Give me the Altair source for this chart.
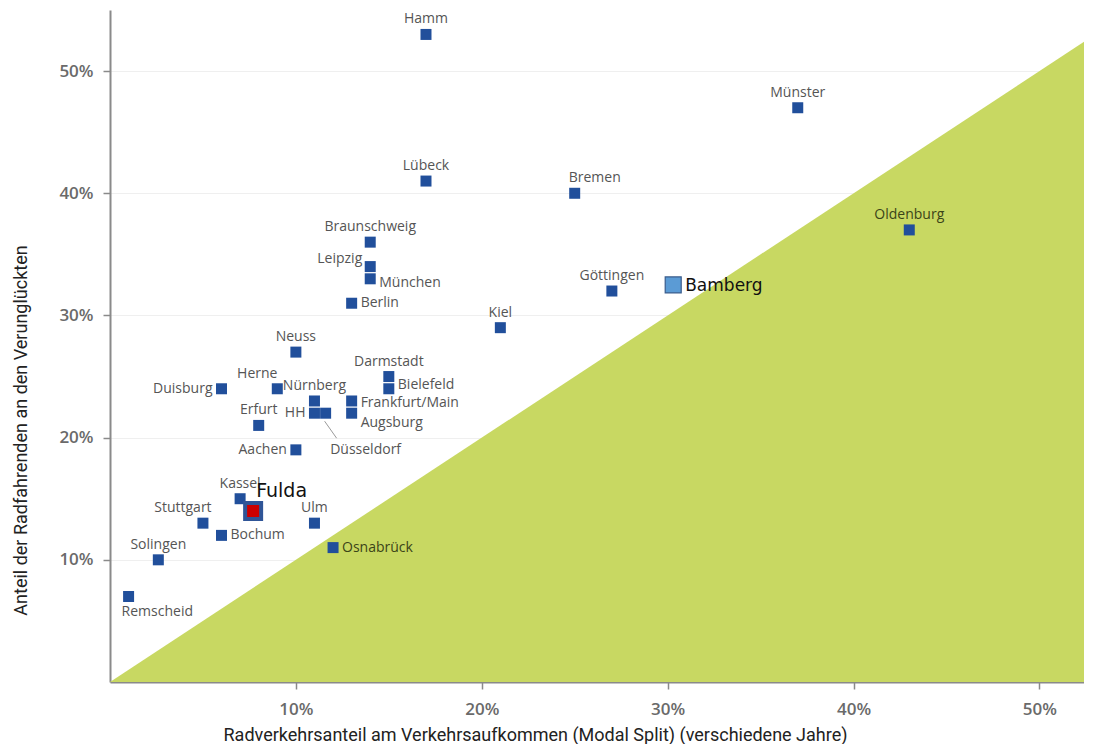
import altair as alt
import pandas as pd

# ---------------- data ----------------
cities = ["Hamm", "Münster", "Lübeck", "Bremen", "Oldenburg", "Braunschweig",
          "Leipzig", "München", "Berlin", "Göttingen", "Kiel", "Neuss",
          "Darmstadt", "Bielefeld", "Duisburg", "Herne", "Nürnberg", "HH",
          "Düsseldorf", "Frankfurt/Main", "Augsburg", "Erfurt", "Aachen",
          "Kassel", "Stuttgart", "Ulm", "Bochum", "Osnabrück", "Solingen",
          "Remscheid"]
modal_split = [17, 37, 17, 25, 43, 14, 14, 14, 13, 27, 21, 10, 15, 15, 6, 9,
               11, 11, 11.6, 13, 13, 8, 10, 7, 5, 11, 6, 12, 2.6, 1]
cyclist_share = [53, 47, 41, 40, 37, 36, 34, 33, 31, 32, 29, 27, 25, 24, 24,
                 24, 23, 22, 22, 23, 22, 21, 19, 15, 13, 13, 12, 11, 10, 7]
label_place = ["top", "top", "top", "topright", "top", "top", "upleft",
               "right_low", "right", "top", "top", "top", "top", "right_high",
               "left", "topleft", "top", "left", "leader", "right_down",
               "right_lower", "top", "left", "top", "topleft", "top", "right",
               "right", "top", "bottom"]

highlight_cities = ["Bamberg", "Fulda"]
highlight_x = [30.3, 7.7]
highlight_y = [32.5, 14.0]

x_ticks = [10, 20, 30, 40, 50]
y_ticks = [10, 20, 30, 40, 50]
X_MAX = 52.4
Y_MAX = 55

x_title = "Radverkehrsanteil am Verkehrsaufkommen (Modal Split) (verschiedene Jahre)"
y_title = "Anteil der Radfahrenden an den Verunglückten"

df = pd.DataFrame({"city": cities, "x": modal_split, "y": cyclist_share,
                   "place": label_place})
hl = pd.DataFrame({"city": highlight_cities, "x": highlight_x, "y": highlight_y})
diag = pd.DataFrame({"x": [0, X_MAX]})

# ---------------- scales ----------------
xs = alt.Scale(domain=[0, X_MAX], nice=False, zero=False)
ys = alt.Scale(domain=[0, Y_MAX], nice=False, zero=False)

x_axis = alt.Axis(values=x_ticks, labelExpr="datum.value + '%'", grid=False,
                  title=x_title, titleX=425, titlePadding=9)
y_axis = alt.Axis(values=y_ticks, labelExpr="datum.value + '%'", grid=True,
                  title=y_title, titleX=-80, titleY=420)

X = alt.X("x:Q", scale=xs, axis=x_axis)
Y = alt.Y("y:Q", scale=ys, axis=y_axis)
Xn = alt.X("x:Q", scale=xs)
Yn = alt.Y("y:Q", scale=ys)

# green area below the diagonal (y = x)
area = alt.Chart(diag).transform_calculate(yy="datum.x").mark_area(
    color="#c8d862", opacity=1
).encode(x=X, y=alt.Y("yy:Q", scale=ys, axis=y_axis), y2=alt.datum(0))

points = alt.Chart(df).mark_square(size=121, color="#214f9b", opacity=1).encode(
    x=Xn, y=Yn)

text_color = alt.condition("datum.y < datum.x", alt.value("#3b4418"),
                           alt.value("#555555"))

place_styles = {
    "top": dict(align="center", baseline="bottom", dx=0, dy=-8),
    "right": dict(align="left", baseline="middle", dx=9, dy=0),
    "right_high": dict(align="left", baseline="middle", dx=9, dy=-4),
    "right_down": dict(align="left", baseline="middle", dx=9, dy=2),
    "right_low": dict(align="left", baseline="middle", dx=9, dy=4),
    "right_lower": dict(align="left", baseline="middle", dx=9, dy=10),
    "left": dict(align="right", baseline="middle", dx=-9, dy=0),
    "topleft": dict(align="center", baseline="bottom", dx=-20, dy=-8),
    "topright": dict(align="left", baseline="bottom", dx=-6, dy=-8),
    "upleft": dict(align="right", baseline="middle", dx=-8, dy=-8),
    "bottom": dict(align="left", baseline="top", dx=-7, dy=9),
    "leader": dict(align="center", baseline="middle", dx=40, dy=37),
}

text_layers = []
for place, st in place_styles.items():
    text_layers.append(
        alt.Chart(df).transform_filter(
            alt.FieldEqualPredicate(field="place", equal=place)
        ).mark_text(font="Open Sans", fontSize=14, **st).encode(
            x=Xn, y=Yn, text="city:N", color=text_color)
    )

leader = alt.Chart(df).transform_filter(
    alt.FieldEqualPredicate(field="place", equal="leader")
).mark_rule(color="#9a9a9a", strokeWidth=1, yOffset=8, xOffset=-1,
            y2Offset=25, x2Offset=11).encode(
    x=Xn, y=Yn, x2="x:Q", y2="y:Q")

bamberg = alt.Chart(hl).transform_filter(
    alt.FieldEqualPredicate(field="city", equal="Bamberg"))
fulda = alt.Chart(hl).transform_filter(
    alt.FieldEqualPredicate(field="city", equal="Fulda"))

bamberg_pt = bamberg.mark_square(size=256, fill="#5b9bd5", stroke="#3a5c8c",
                                 strokeWidth=1.2, opacity=1).encode(x=Xn, y=Yn)
bamberg_tx = bamberg.mark_text(font="DejaVu Sans", fontSize=17, align="left",
                               baseline="middle", dx=12, dy=1,
                               color="#111111").encode(x=Xn, y=Yn, text="city:N")
fulda_pt = fulda.mark_square(size=256, fill="#cc0000", stroke="#2f5597",
                             strokeWidth=4, opacity=1).encode(x=Xn, y=Yn)
fulda_tx = fulda.mark_text(font="DejaVu Sans", fontSize=19, align="left",
                           baseline="middle", dx=3, dy=-20,
                           color="#111111").encode(x=Xn, y=Yn, text="city:N")

chart = alt.layer(
    area, leader, points, *text_layers, bamberg_pt, bamberg_tx, fulda_pt, fulda_tx
).properties(
    width=974, height=672,
    autosize=alt.AutoSizeParams(type="none"),
    padding={"left": 102, "top": 2, "right": 0, "bottom": 62},
).configure_view(stroke=None).configure_axis(
    domainColor="#8a8a8a", domainWidth=2, tickColor="#8a8a8a", tickWidth=1.5,
    tickSize=7, labelFont="Open Sans", labelFontSize=17, labelColor="#6a6a6a",
    labelFontWeight=600, gridColor="#efefef", gridWidth=1,
    titleFont="Liberation Sans Narrow, Roboto, sans-serif", titleFontSize=18,
    titleFontWeight="normal", titleColor="#222222",
).configure_axisX(labelPadding=12).configure_axisY(labelPadding=10)

chart.save("out.html", embed_options={"renderer": "svg", "actions": False})
